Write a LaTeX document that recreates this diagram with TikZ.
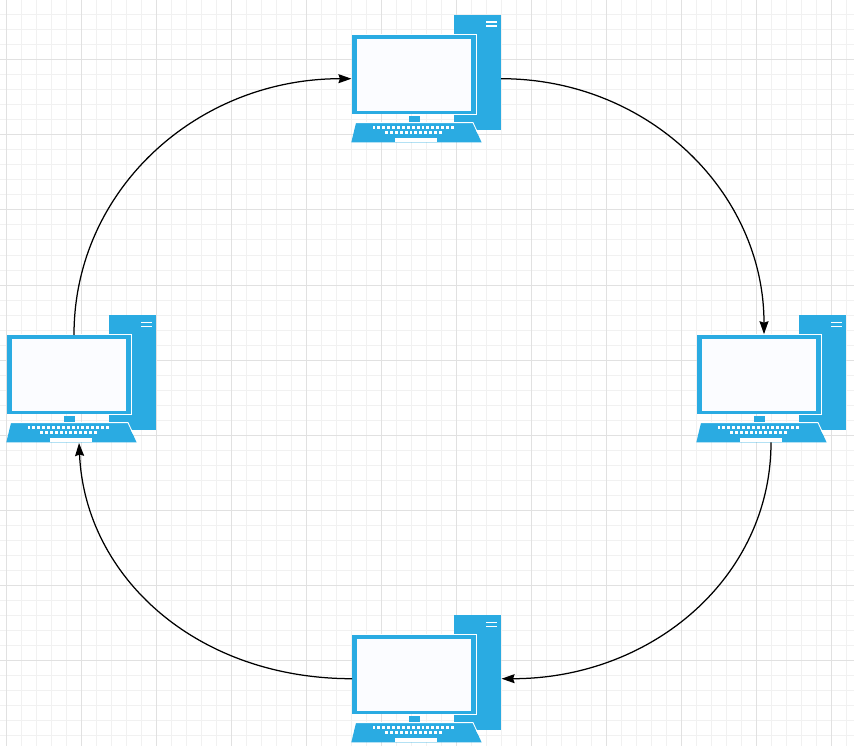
\documentclass[tikz,border=0pt]{standalone}
\usetikzlibrary{arrows.meta}
\definecolor{pcblue}{HTML}{2AABE2}
\definecolor{screenc}{HTML}{FBFCFF}
\definecolor{gridminor}{HTML}{F1F1F1}
\definecolor{gridmajor}{HTML}{E1E1E1}
\tikzset{
  x=1pt,y=-1pt,
  gridminorline/.style={draw=gridminor,line width=1pt},
  gridmajorline/.style={draw=gridmajor,line width=1pt},
  hitbox/.style={inner sep=0pt,outer sep=0pt,minimum width=150pt,minimum height=127.4pt},
  monbox/.style={inner sep=0pt,outer sep=0pt,minimum width=124pt,minimum height=79.4pt,fill=pcblue},
  screenbox/.style={inner sep=0pt,outer sep=0pt,minimum width=113.7pt,minimum height=71.7pt,fill=screenc},
  edgewhite/.style={draw=white,line width=0.9pt},
  link/.style={draw=black,line width=1.25pt,shorten >=0.6pt,-{Stealth[length=13pt,width=9pt,inset=1.5pt]}},
  pics/computer/.style={code={
    \node[hitbox] (-box) at (75,63.7) {};
    \fill[pcblue] (103,0.3) rectangle (150,115);
    \fill[white] (135.2,6.5) rectangle (145.7,8);
    \fill[white] (135.2,10.5) rectangle (145.7,12);
    \node[monbox] (-mon) at (63,59.5) {};
    \node[screenbox] (-scr) at (63.2,59.7) {};
    \draw[edgewhite] (1,19.4) -- (125.5,19.4) -- (125.5,99.6) -- (103,99.6);
    \fill[pcblue] (57.7,100.6) rectangle (69.3,106.7);
    \fill[pcblue] (5,108) -- (121.7,108) -- (130.6,127.4) -- (0.3,127.4) -- cycle;
    \draw[edgewhite] (5,107.6) -- (122,107.6) -- (127,118.5);
    \fill[white] (44.4,123) rectangle (85.7,126.7);
    \foreach \k in {0,...,16} {\fill[white] ({21.5+\k*4.9},111) rectangle ++(2.9,3);}
    \foreach \k in {0,...,11} {\fill[white] ({34+\k*4.9},116) rectangle ++(2.9,3);}
  }}
}
\begin{document}
\begin{tikzpicture}
\useasboundingbox (0,0) rectangle (854,746);
\clip (0,0) rectangle (854,746);
\fill[white] (0,0) rectangle (854,746);
\foreach \k in {0,...,56} {\draw[gridminorline] ({6.7+15*\k},0) -- ({6.7+15*\k},746);}
\foreach \k in {0,...,49} {\draw[gridminorline] (0,{15*\k}) -- (854,{15*\k});}
\foreach \k in {0,...,11} {\draw[gridmajorline] ({6.7+75*\k},0) -- ({6.7+75*\k},746);}
\foreach \k in {0,...,9} {\draw[gridmajorline] (0,{-15+75*\k}) -- (854,{-15+75*\k});}

\pic (T) at (351,15) {computer};
\pic (R) at (696,315) {computer};
\pic (B) at (351,615) {computer};
\pic (L) at (6,315) {computer};

\coordinate (Rin) at ([xshift=5pt]R-mon.north);
\coordinate (Lout) at ([xshift=5pt]L-mon.north);
\coordinate (Lin) at ([xshift=-2pt]L-box.south);

\path[link] (T-box.east) .. controls +(147,0) and +(0,-143) .. (Rin);
\path[link] (R-box.south) .. controls +(0,135) and +(151,0) .. (B-box.east);
\path[link] (B-mon.west |- B-box.east) .. controls +(-155,0) and +(6,135) .. (Lin);
\path[link] (Lout) .. controls +(0,-145) and +(-155,0) .. (T-mon.west |- T-box.east);
\end{tikzpicture}
\end{document}
